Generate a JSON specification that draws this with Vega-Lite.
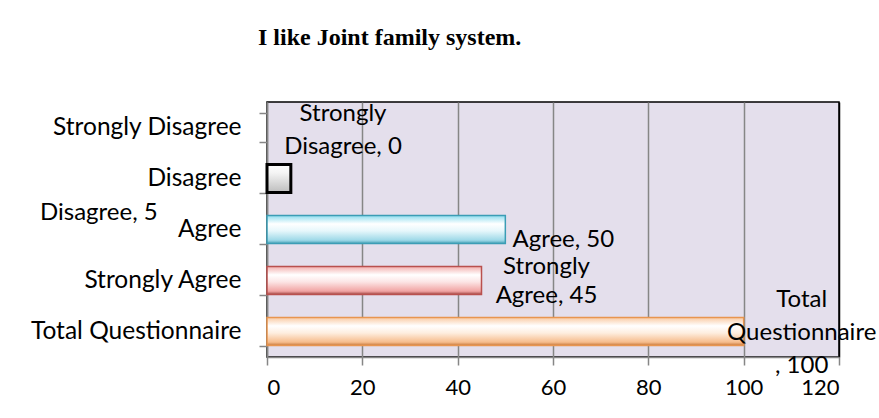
{
  "$schema": "https://vega.github.io/schema/vega-lite/v6.json",
  "width": 572,
  "height": 255,
  "autosize": {"type": "none"},
  "padding": {"left": 267, "top": 102, "right": 40, "bottom": 61},
  "background": "white",
  "config": {
    "view": {"fill": "#E4DFEC", "stroke": "#000000", "strokeWidth": 1.5},
    "font": "Lato"
  },
  "title": {
    "text": "I like Joint family system.",
    "font": "Liberation Serif",
    "fontSize": 24,
    "fontWeight": "bold",
    "color": "#000000",
    "anchor": "start",
    "frame": "group",
    "dx": -9,
    "offset": 39
  },
  "data": {
    "values": [
      {"response": "Strongly Disagree", "count": 0, "label": "Strongly\nDisagree, 0"},
      {"response": "Disagree", "count": 5, "label": "Disagree, 5"},
      {"response": "Agree", "count": 50, "label": "Agree, 50"},
      {"response": "Strongly Agree", "count": 45, "label": "Strongly\nAgree, 45"},
      {"response": "Total Questionnaire", "count": 100, "label": "Total\nQuestionnaire\n, 100"}
    ]
  },
  "encoding": {
    "y": {
      "field": "response",
      "type": "nominal",
      "sort": ["Strongly Disagree", "Disagree", "Agree", "Strongly Agree", "Total Questionnaire"],
      "scale": {"paddingInner": 0.45, "paddingOuter": 0.225},
      "axis": {
        "title": null,
        "tickBand": "extent",
        "domainColor": "#868686",
        "domainWidth": 1.5,
        "tickColor": "#868686",
        "tickWidth": 1.5,
        "tickSize": 8,
        "labelFont": "Lato",
        "labelFontSize": 24.5,
        "labelColor": "#000000",
        "labelPadding": 18,
        "labelLimit": 400,
        "grid": false
      }
    },
    "x": {
      "field": "count",
      "type": "quantitative",
      "scale": {"domain": [0, 120], "nice": false},
      "axis": {
        "title": null,
        "values": [0, 20, 40, 60, 80, 100, 120],
        "grid": true,
        "gridColor": {"condition": {"test": "datum.value === 120", "value": "#000000"}, "value": "#868686"},
        "gridWidth": 1.5,
        "domainColor": "#868686",
        "domainWidth": 1.5,
        "tickColor": "#868686",
        "tickWidth": 1.5,
        "tickSize": 8,
        "labelFont": "Lato",
        "labelFontSize": 22,
        "labelColor": "#000000",
        "labelPadding": 12
      }
    }
  },
  "layer": [
    {
      "transform": [{"filter": "datum.response === 'Disagree'"}],
      "mark": {
        "type": "bar",
        "stroke": "#000000",
        "strokeWidth": 3,
        "fill": {"gradient": "linear", "x1": 0, "y1": 0, "x2": 0, "y2": 1,
          "stops": [{"offset": 0, "color": "#FFFFFF"}, {"offset": 0.3, "color": "#F4F4F4"}, {"offset": 1, "color": "#BDBDBD"}]}
      }
    },
    {
      "transform": [{"filter": "datum.response === 'Agree'"}],
      "mark": {
        "type": "bar",
        "stroke": "#3B9DB5",
        "strokeWidth": 1.5,
        "fill": {"gradient": "linear", "x1": 0, "y1": 0, "x2": 0, "y2": 1,
          "stops": [{"offset": 0, "color": "#8FDDEF"}, {"offset": 0.3, "color": "#FFFFFF"}, {"offset": 0.55, "color": "#E6F7FB"}, {"offset": 0.88, "color": "#9ED9E8"}, {"offset": 1, "color": "#4AA3B8"}]}
      }
    },
    {
      "transform": [{"filter": "datum.response === 'Strongly Agree'"}],
      "mark": {
        "type": "bar",
        "stroke": "#B9504E",
        "strokeWidth": 1.5,
        "fill": {"gradient": "linear", "x1": 0, "y1": 0, "x2": 0, "y2": 1,
          "stops": [{"offset": 0, "color": "#F3AFAE"}, {"offset": 0.3, "color": "#FFFFFF"}, {"offset": 0.55, "color": "#FCE5E5"}, {"offset": 0.88, "color": "#F1A4A3"}, {"offset": 1, "color": "#A34846"}]}
      }
    },
    {
      "transform": [{"filter": "datum.response === 'Total Questionnaire'"}],
      "mark": {
        "type": "bar",
        "stroke": "#E8954F",
        "strokeWidth": 1.5,
        "fill": {"gradient": "linear", "x1": 0, "y1": 0, "x2": 0, "y2": 1,
          "stops": [{"offset": 0, "color": "#F9C9A2"}, {"offset": 0.3, "color": "#FFFFFF"}, {"offset": 0.55, "color": "#FEEEE0"}, {"offset": 0.88, "color": "#F6BC8C"}, {"offset": 1, "color": "#C7793D"}]}
      }
    },
    {
      "transform": [{"filter": "datum.response === 'Strongly Disagree'"}],
      "mark": {"type": "text", "font": "Lato", "fontSize": 24, "color": "#000000", "align": "center", "baseline": "middle", "lineBreak": "\n", "lineHeight": 33, "dx": 76, "dy": -14},
      "encoding": {"text": {"field": "label"}}
    },
    {
      "transform": [{"filter": "datum.response === 'Disagree'"}],
      "mark": {"type": "text", "font": "Lato", "fontSize": 24, "color": "#000000", "align": "center", "baseline": "middle", "dx": -192, "dy": 34},
      "encoding": {"text": {"field": "label"}}
    },
    {
      "transform": [{"filter": "datum.response === 'Agree'"}],
      "mark": {"type": "text", "font": "Lato", "fontSize": 24, "color": "#000000", "align": "center", "baseline": "middle", "dx": 58, "dy": 10},
      "encoding": {"text": {"field": "label"}}
    },
    {
      "transform": [{"filter": "datum.response === 'Strongly Agree'"}],
      "mark": {"type": "text", "font": "Lato", "fontSize": 24, "color": "#000000", "align": "center", "baseline": "middle", "lineBreak": "\n", "lineHeight": 29, "dx": 65, "dy": -14},
      "encoding": {"text": {"field": "label"}}
    },
    {
      "transform": [{"filter": "datum.response === 'Total Questionnaire'"}],
      "mark": {"type": "text", "font": "Lato", "fontSize": 24, "color": "#000000", "align": "center", "baseline": "middle", "lineBreak": "\n", "lineHeight": 33, "dx": 58, "dy": -32},
      "encoding": {"text": {"field": "label"}}
    }
  ]
}
